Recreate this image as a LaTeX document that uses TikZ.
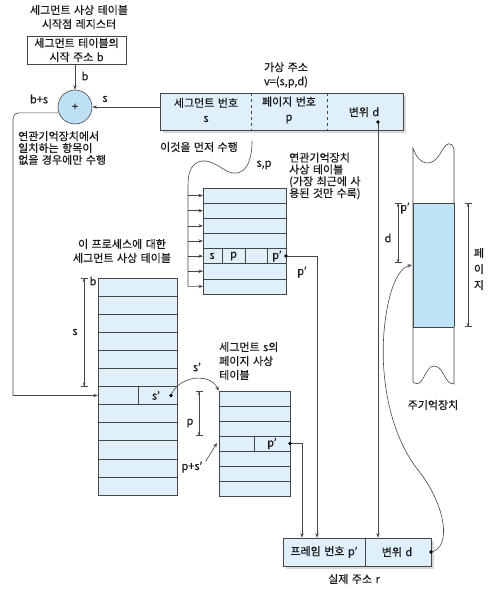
\documentclass[tikz,border=0pt]{standalone}
\usepackage{fontspec}
\setmainfont[FakeBold=0.5,WordSpace=1.4]{Noto Sans CJK KR}
\usetikzlibrary{arrows.meta,shadows}

\definecolor{cellblue}{RGB}{224,240,250}
\definecolor{addblue}{RGB}{190,224,245}
\definecolor{pageblue}{RGB}{190,228,248}
\definecolor{linegray}{RGB}{70,70,70}

\begin{document}
\begin{tikzpicture}[x=1pt,y=-1pt,
  every node/.style={font=\fontsize{11}{12}\selectfont,inner sep=0pt,text=black!90},
  ln/.style={draw=linegray,line width=0.6pt},
  arr/.style={ln,-{Stealth[length=4.5pt,width=3.4pt]}},
  dimline/.style={ln,{Bar[width=7pt]Stealth[length=3.5pt,width=2.6pt]}-{Stealth[length=3.5pt,width=2.6pt]Bar[width=7pt]}},
  tblbox/.style={draw=linegray,fill=cellblue,line width=0.6pt},
  addrbox/.style={draw=linegray,fill=cellblue,line width=0.6pt,drop shadow={shadow xshift=3pt,shadow yshift=-3pt,fill=black!15,opacity=1}}]
\useasboundingbox (0,0) rectangle (492,589);

\node[align=center,font=\fontsize{11}{14}\selectfont] (regname) at (79,17) {세그먼트 사상 테이블\\시작점 레지스터};
\node[draw=linegray,line width=0.6pt,minimum width=99pt,minimum height=28pt,align=center,font=\fontsize{11}{14}\selectfont] (reg) at (76.5,50) {세그먼트 테이블의\\시작 주소 b};
\node[circle,draw=linegray,fill=addblue,line width=0.6pt,minimum size=34pt] (adder) at (75,107) {+};
\draw[arr] (reg.south -| adder) -- (adder.north);
\node (lblb) at (85,76) {b};
\node (lblbs) at (39,99) {b+s};
\node (lbls) at (105,99) {s};

\node[addrbox,minimum width=243pt,minimum height=37pt] (vaddr) at (281.5,111.5) {};
\draw[ln,dashed] (251,93) -- (251,130);
\draw[ln,dashed] (327,93) -- (327,130);
\node[align=center,font=\fontsize{11}{15}\selectfont] (vseg) at (206,110) {세그먼트 번호\\s};
\node[align=center,font=\fontsize{11}{15}\selectfont] (vpage) at (289,110) {페이지 번호\\p};
\node (voff) at (364,112) {변위 d};
\node[align=center,font=\fontsize{11}{14}\selectfont] (vname) at (286,75) {가상 주소\\v=(s,p,d)};
\coordinate (ddot) at (378,122);
\draw[arr] (vaddr.west |- adder) -- (adder.east);

\node[align=left,anchor=west,font=\fontsize{11}{11.8}\selectfont] (note) at (18,148) {연관기억장치에서\\일치하는 항목이\\없을 경우에만 수행};
\node (first) at (199,147) {이것을 먼저 수행};
\node (lblsp) at (264,165) {s,p};

% segment table
\node[tblbox,minimum width=79pt,minimum height=217pt] (segtbl) at (137.5,386.5) {};
\foreach \i in {1,...,11}
  \draw[ln] (98,{278+\i*217/12}) -- (177,{278+\i*217/12});
\draw[ln] (138,386.5) -- (138,404.6);
\node (segsd) at (156,395.5) {s'};
\coordinate (sdot) at (171,395.5);
\draw[dimline] (84,278) -- (84,386.5);
\node (lblb2) at (93,281) {b};
\node (lbls2) at (75,332) {s};
\node[align=center,font=\fontsize{11}{14}\selectfont] (segname) at (122,251) {이 프로세스에 대한\\세그먼트 사상 테이블};
\draw[arr] (adder.200) [rounded corners=6pt] -| (13,200) [sharp corners] |- (segtbl.west |- 0,395.5);

% associative table
\node[tblbox,minimum width=83pt,minimum height=106pt] (assoc) at (244.5,241) {};
\foreach \i in {1,...,6}
  \draw[ln] (203,{188+\i*106/7}) -- (286,{188+\i*106/7});
\draw[ln] (222,248.6) -- (222,263.7);
\draw[ln] (245,248.6) -- (245,263.7);
\draw[ln] (267,248.6) -- (267,263.7);
\node (as) at (212,256) {s};
\node (ap) at (233.5,256) {p};
\node (apd) at (277,256) {p'};
\coordinate (adot) at (286,256);
\node[align=left,anchor=west,font=\fontsize{11}{11.8}\selectfont] (assocname) at (289,176) {연관기억장치\\사상 테이블\\(가장 최근에 사\\용된 것만 수록)};
\foreach \i in {0,...,5}
  \draw[arr] (188,{188+(\i+0.5)*106/7}) -- (203,{188+(\i+0.5)*106/7});
\draw[arr] (252,141) .. controls (252,172) and (238,178) .. (225,170) .. controls (214,163) and (204,157) .. (195,164) .. controls (189,169) and (188,176) .. (188,188) -- (188,286.4) -- (203,286.4);

% page table
\node[tblbox,minimum width=71pt,minimum height=105pt] (pgtbl) at (254.5,443.5) {};
\foreach \i in {1,...,6}
  \draw[ln] (219,{391+\i*15}) -- (290,{391+\i*15});
\draw[ln] (254,436) -- (254,451);
\node (pgpd) at (272,443.5) {p'};
\coordinate (pdot) at (290,443.5);
\node[align=left,anchor=west,font=\fontsize{11}{14}\selectfont] (pgname) at (219,361) {세그먼트 s의\\페이지 사상\\테이블};
\draw[dimline] (199,391) -- (199,436);
\node (lblp) at (190,423) {p};
\node (lblps) at (192,467) {p+s'};
\draw[arr] ([xshift=3pt]lblps.north east) -- (217,443);
\draw[arr] (sdot) .. controls (178,376) and (210,372) .. (pgtbl.north west);
\node (lblsd) at (197,367) {s'};

% real address
\node[addrbox,minimum width=148pt,minimum height=28pt] (frame) at (357,552) {};
\draw[ln] (365,538) -- (365,566);
\node (frnum) at (324,552) {프레임 번호 p'};
\node (froff) at (397,552) {변위 d};
\node (realname) at (354,579) {실제 주소 r};
\coordinate (fdot) at (431,552);

\draw[arr] (ddot) -- (ddot |- frame.north);
\draw[arr] (adot) -| (317,0 |- frame.north);
\node (lblpd) at (302,272) {p'};
\draw[arr] (pdot) -| (302,0 |- frame.north);

% main memory
\filldraw[ln,fill=white] (413,148) .. controls (420,168) and (433,166) .. (440,154) .. controls (446,142) and (452,140) .. (454,150) -- (454,384) .. controls (444,384) and (444,366) .. (434,366) .. controls (424,366) and (424,390) .. (413,382) -- cycle;
\fill[pageblue] (413,203) rectangle (454,327);
\draw[ln] (413,203) -- (454,203) (413,327) -- (454,327) (413,203) -- (413,327) (454,203) -- (454,327);
\node (memname) at (433,405) {주기억장치};
\coordinate (memin) at (412,265);
\draw[dimline] (398,203) -- (398,263);
\node (lblpm) at (405,208) {p'};
\node (lbldm) at (388,238) {d};
\draw[dimline] (468,203) -- (468,327);
\node[align=center,font=\fontsize{11}{16}\selectfont] (pagelbl) at (479,269) {페\\이\\지};
\draw[arr] (fdot) .. controls (452,548) and (446,505) .. (418,470) .. controls (392,437) and (378,380) .. (385,322) .. controls (389,290) and (398,268) .. (memin);

\foreach \d in {ddot,adot,pdot,sdot,fdot}
  \fill[black] (\d) circle (1.9pt);
\end{tikzpicture}
\end{document}
